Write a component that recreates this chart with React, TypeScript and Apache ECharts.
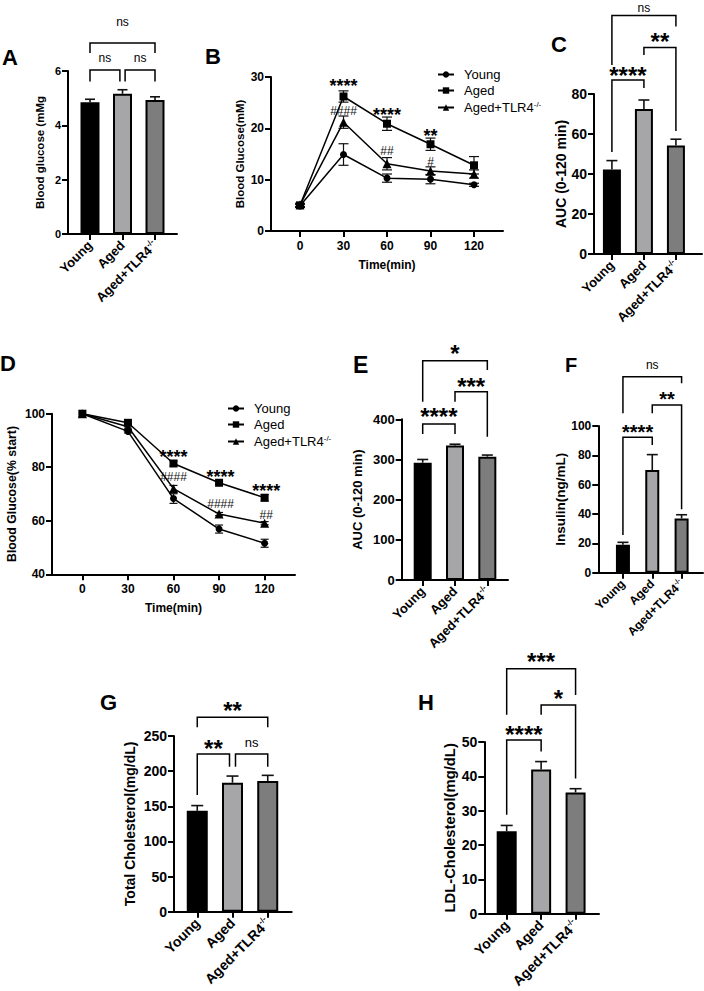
import React, { useEffect, useRef } from 'react';
import * as echarts from 'echarts';

const FONT = '"Liberation Sans", Arial, Helvetica, sans-serif';

// ---------- categories ----------
const GROUPS = ['Young', 'Aged', 'Aged+TLR4-/-'];
const BAR_COLORS = ['#000000', '#a6a6a9', '#7d7d7d'];
const TIMES = [0, 30, 60, 90, 120];

// ---------- A: fasting blood glucose ----------
const fastingGlucose = [4.85, 5.16, 4.93];
const fastingGlucoseErr = [0.11, 0.15, 0.12];
const bracketsA = [
  { x1: 0, x2: 2, y: 7.03, leg1: 6.66, leg2: 6.66, textY: 7.81, text: 'ns' },
  { x1: 0, x2: 0.92, y: 6.04, leg1: 5.61, leg2: 5.61, textY: 6.47, text: 'ns' },
  { x1: 1.08, x2: 2, y: 6.04, leg1: 5.61, leg2: 5.61, textY: 6.47, text: 'ns' },
];

// ---------- B: GTT ----------
const gttYoung = [4.9, 14.9, 10.3, 10.1, 9.0];
const gttYoungErr = [0.3, 2.1, 0.8, 0.9, 0.3];
const gttAged = [5.0, 26.2, 20.9, 16.9, 12.8];
const gttAgedErr = [0.3, 1.1, 1.3, 1.2, 1.7];
const gttTlr4 = [5.1, 21.2, 13.1, 11.7, 11.1];
const gttTlr4Err = [0.3, 1.2, 1.2, 0.8, 0.8];
const gttMarks = [
  { x: 30, y: 29.0, text: '****' },
  { x: 30, y: 23.4, text: '####' },
  { x: 60, y: 23.4, text: '****' },
  { x: 60, y: 15.6, text: '##' },
  { x: 90, y: 19.3, text: '**' },
  { x: 90, y: 13.4, text: '#' },
];

// ---------- C: GTT AUC ----------
const gttAuc = [42.3, 72.5, 54.2];
const gttAucErr = [4.4, 4.5, 3.2];
const bracketsC = [
  { x1: 0, x2: 2, y: 119.2, leg1: 94.5, leg2: 113.7, textY: 123.2, text: 'ns' },
  { x1: 1, x2: 2, y: 103.2, leg1: 99.5, leg2: 61.5, textY: 108.7, text: '**' },
  { x1: 0, x2: 1, y: 87, leg1: 51, leg2: 83, textY: 92, text: '****' },
];

// ---------- D: ITT ----------
const ittYoung = [100, 93.4, 68.3, 56.9, 51.6];
const ittYoungErr = [0, 0.6, 1.8, 1.5, 1.5];
const ittAged = [100, 96.6, 81.4, 74.2, 68.6];
const ittAgedErr = [0, 0.5, 1.0, 0.6, 1.2];
const ittTlr4 = [100, 95.1, 72.0, 62.5, 59.1];
const ittTlr4Err = [0, 0.5, 1.2, 0.6, 0.6];
const ittMarks = [
  { x: 60, y: 85.4, text: '****' },
  { x: 60, y: 76.2, text: '####' },
  { x: 91, y: 77.7, text: '****' },
  { x: 91, y: 66.2, text: '####' },
  { x: 121, y: 72.5, text: '****' },
  { x: 121, y: 62.2, text: '##' },
];

// ---------- E: ITT AUC ----------
const ittAuc = [292, 335, 307];
const ittAucErr = [8, 3, 4];
const bracketsE = [
  { x1: 0, x2: 1, y: 388.3, leg1: 363.5, leg2: 363.5, textY: 419, text: '****' },
  { x1: 1, x2: 2, y: 468.8, leg1: 443.9, leg2: 356.7, textY: 496, text: '***' },
  { x1: 0, x2: 2, y: 545.9, leg1: 443.9, leg2: 522.8, textY: 576.8, text: '*' },
];

// ---------- F: insulin ----------
const insulin = [19, 70, 37];
const insulinErr = [1.7, 10.5, 2.5];
const bracketsF = [
  { x1: 0, x2: 2, y: 133.6, leg1: 108.7, leg2: 129.1, textY: 141.6, text: 'ns' },
  { x1: 1, x2: 2, y: 114.3, leg1: 108.7, leg2: 43.2, textY: 121.1, text: '**' },
  { x1: 0, x2: 1, y: 92.3, leg1: 25.7, leg2: 87, textY: 99.1, text: '****' },
];

// ---------- G: total cholesterol ----------
const totalChol = [143.5, 183.5, 186];
const totalCholErr = [7.5, 9.5, 8];
const bracketsG = [
  { x1: 0, x2: 2, y: 276.6, leg1: 262.4, leg2: 262.4, textY: 294.2, text: '**' },
  { x1: 0, x2: 0.915, y: 224.4, leg1: 166.1, leg2: 206.3, textY: 239.6, text: '**' },
  { x1: 1.085, x2: 2, y: 224.4, leg1: 206.3, leg2: 206.3, textY: 240.5, text: 'ns' },
];

// ---------- H: LDL cholesterol ----------
const ldlChol = [24, 42, 35.3];
const ldlCholErr = [1.7, 2.3, 1.1];
const bracketsH = [
  { x1: 0, x2: 2, y: 71.3, leg1: 57.9, leg2: 63.7, textY: 74.9, text: '***' },
  { x1: 1, x2: 2, y: 60.8, leg1: 57.9, leg2: 39.4, textY: 64.2, text: '*' },
  { x1: 0, x2: 1, y: 50.6, leg1: 28.8, leg2: 47.2, textY: 53.7, text: '****' },
];

// ---------- layout / style ----------
const barPanels = [
  { letter: 'A', gi: 0, grid: { left: 68, top: 71, width: 109, height: 163 }, xMin: -0.677, xMax: 2.677, yMax: 6, yInt: 2,
    means: fastingGlucose, errs: fastingGlucoseErr, brackets: bracketsA, name: 'Blood glucose (mMg', nameGap: 22, nameSize: 11.5,
    tickSize: 11, catSize: 13, barWidth: 19, cap: 10, starSize: 24, nsSize: 12 },
  { letter: 'C', gi: 2, grid: { left: 594, top: 94, width: 108, height: 160 }, xMin: -0.56, xMax: 2.815, yMax: 80, yInt: 20,
    means: gttAuc, errs: gttAucErr, brackets: bracketsC, name: 'AUC (0-120 min)', nameGap: 24, nameSize: 14,
    tickSize: 14, catSize: 13, barWidth: 18, cap: 11, starSize: 24, nsSize: 12 },
  { letter: 'E', gi: 4, grid: { left: 401.7, top: 419.3, width: 106.3, height: 160.7 }, xMin: -0.65, xMax: 2.64, yMax: 400, yInt: 100,
    means: ittAuc, errs: ittAucErr, brackets: bracketsE, name: 'AUC (0-120 min)', nameGap: 38, nameSize: 13,
    tickSize: 13, catSize: 13, barWidth: 18, cap: 11, starSize: 24, nsSize: 12 },
  { letter: 'F', gi: 5, grid: { left: 598.3, top: 426, width: 104.7, height: 146.7 }, xMin: -0.84, xMax: 2.73, yMax: 100, yInt: 20,
    means: insulin, errs: insulinErr, brackets: bracketsF, name: 'Insulin(ng/mL)', nameGap: 26, nameSize: 13.5,
    tickSize: 12, catSize: 12, barWidth: 14, cap: 11, starSize: 20, nsSize: 12 },
  { letter: 'G', gi: 6, grid: { left: 174, top: 736, width: 117.7, height: 175.7 }, xMin: -0.66, xMax: 2.68, yMax: 250, yInt: 50,
    means: totalChol, errs: totalCholErr, brackets: bracketsG, name: 'Total Cholesterol(mg/dL)', nameGap: 37, nameSize: 14,
    tickSize: 14, catSize: 14, barWidth: 21, cap: 12, starSize: 24, nsSize: 13 },
  { letter: 'H', gi: 7, grid: { left: 484.3, top: 742, width: 114.7, height: 171.7 }, xMin: -0.65, xMax: 2.68, yMax: 50, yInt: 10,
    means: ldlChol, errs: ldlCholErr, brackets: bracketsH, name: 'LDL-Cholesterol(mg/dL)', nameGap: 27, nameSize: 14.8,
    tickSize: 14, catSize: 14, barWidth: 20, cap: 12, starSize: 24, nsSize: 12 },
];

const linePanels = [
  { gi: 1, grid: { left: 271, top: 77, width: 232, height: 154 }, yMin: 0, yMax: 30, yInt: 10,
    series: [[gttYoung, gttYoungErr], [gttAged, gttAgedErr], [gttTlr4, gttTlr4Err]], marks: gttMarks,
    name: 'Blood Glucose(mM)', nameGap: 25, nameSize: 11.5, tickSize: 12, cap: 10, legend: { left: 432, top: 63 } },
  { gi: 3, grid: { left: 52, top: 413.7, width: 243, height: 160.6 }, yMin: 40, yMax: 100, yInt: 20,
    series: [[ittYoung, ittYoungErr], [ittAged, ittAgedErr], [ittTlr4, ittTlr4Err]], marks: ittMarks,
    name: 'Blood Glucose(% start)', nameGap: 34, nameSize: 12.3, tickSize: 12, cap: 8, legend: { left: 222, top: 397 } },
];

const letters = [
  { t: 'A', x: 2, y: 57.5, s: 22 },
  { t: 'B', x: 205, y: 56, s: 22 },
  { t: 'C', x: 551, y: 44, s: 22 },
  { t: 'D', x: 0, y: 363, s: 22 },
  { t: 'E', x: 353, y: 365, s: 23 },
  { t: 'F', x: 565, y: 365, s: 20 },
  { t: 'G', x: 100, y: 702.5, s: 22 },
  { t: 'H', x: 418, y: 702.5, s: 22 },
];

const SYMBOLS = ['circle', 'rect', 'triangle'];
const SYMBOL_SIZES = [7, 8, 9];

function axisLineStyle() {
  return {
    axisLine: { show: true, onZero: false, lineStyle: { color: '#000', width: 2 } },
    splitLine: { show: false },
  };
}

function catLabel(v: number) {
  const name = GROUPS[Math.round(v)];
  if (name === 'Aged+TLR4-/-') return '{n|Aged+TLR4}{s|-/-}';
  return '{n|' + name + '}';
}

function richFor(size: number, weight: string) {
  return {
    n: { fontSize: size, fontWeight: weight, fontFamily: FONT, color: '#000', lineHeight: size + 2 },
    s: { fontSize: Math.round(size * 0.6), fontWeight: weight, fontFamily: FONT, color: '#000', verticalAlign: 'top', lineHeight: size * 0.6 },
  };
}

function textEl(x: number, y: number, text: string, size: number) {
  const star = text.indexOf('*') >= 0;
  const hash = text.indexOf('#') >= 0;
  return {
    type: 'text',
    x,
    y: y + (star ? size * 0.22 : 0),
    style: {
      text,
      align: 'center',
      verticalAlign: 'middle',
      fontFamily: FONT,
      fontSize: size,
      fontWeight: star ? 'bold' : 'normal',
      fill: hash ? '#111' : '#000',
    },
  };
}

function buildOption() {
  const grid: any[] = [];
  const xAxis: any[] = [];
  const yAxis: any[] = [];
  const series: any[] = [];
  for (let i = 0; i < 8; i++) { grid.push(null); xAxis.push(null); yAxis.push(null); }

  barPanels.forEach((p) => {
    const gi = p.gi;
    grid[gi] = { ...p.grid, containLabel: false };
    xAxis[gi] = {
      type: 'value', gridIndex: gi, min: p.xMin, max: p.xMax,
      ...axisLineStyle(),
      axisTick: { show: true, length: 6, customValues: [0, 1, 2], lineStyle: { color: '#000', width: 2 } },
      axisLabel: {
        customValues: [0, 1, 2], rotate: 45, margin: 9, formatter: catLabel,
        rich: richFor(p.catSize, 'bold'),
      },
    };
    yAxis[gi] = {
      type: 'value', gridIndex: gi, min: 0, max: p.yMax, interval: p.yInt,
      name: p.name, nameLocation: 'middle', nameGap: p.nameGap,
      nameTextStyle: { fontSize: p.nameSize, fontWeight: 'bold', fontFamily: FONT, color: '#000' },
      ...axisLineStyle(),
      axisTick: { show: true, length: 6, lineStyle: { color: '#000', width: 2 } },
      axisLabel: { margin: 7, fontSize: p.tickSize, fontWeight: 'bold', fontFamily: FONT, color: '#000' },
    };
    series.push({
      type: 'bar', name: 'bars' + p.letter, xAxisIndex: gi, yAxisIndex: gi, barWidth: p.barWidth, z: 2,
      data: p.means.map((v, i) => ({
        value: [i, v],
        itemStyle: { color: BAR_COLORS[i], borderColor: '#000', borderWidth: 2 },
      })),
    });
    series.push({
      type: 'custom', name: 'err' + p.letter, xAxisIndex: gi, yAxisIndex: gi, clip: false, silent: true, z: 3,
      data: p.means.map((v, i) => [i, v, p.errs[i]]),
      renderItem: (params: any, api: any) => {
        const x = api.value(0), m = api.value(1), e = api.value(2);
        const top = api.coord([x, m + e]);
        const base = api.coord([x, m]);
        const st = { stroke: '#111', lineWidth: 1.6 };
        return {
          type: 'group', children: [
            { type: 'line', shape: { x1: base[0], y1: base[1], x2: top[0], y2: top[1] }, style: st },
            { type: 'line', shape: { x1: top[0] - p.cap / 2, y1: top[1], x2: top[0] + p.cap / 2, y2: top[1] }, style: st },
          ],
        };
      },
    });
    series.push({
      type: 'custom', name: 'sig' + p.letter, xAxisIndex: gi, yAxisIndex: gi, clip: false, silent: true, z: 4,
      data: p.brackets.map((b) => [b.x1, b.y]),
      renderItem: (params: any, api: any) => {
        const b = p.brackets[params.dataIndex];
        const l1 = api.coord([b.x1, b.leg1]);
        const p1 = api.coord([b.x1, b.y]);
        const p2 = api.coord([b.x2, b.y]);
        const l2 = api.coord([b.x2, b.leg2]);
        const t = api.coord([(b.x1 + b.x2) / 2, b.textY]);
        const size = b.text === 'ns' ? p.nsSize : p.starSize;
        return {
          type: 'group', children: [
            { type: 'polyline', shape: { points: [l1, p1, p2, l2] }, style: { stroke: '#000', lineWidth: 1.5, fill: null } },
            textEl(t[0], t[1], b.text, size),
          ],
        };
      },
    });
  });

  const legends: any[] = [];
  linePanels.forEach((p) => {
    const gi = p.gi;
    grid[gi] = { ...p.grid, containLabel: false };
    xAxis[gi] = {
      type: 'value', gridIndex: gi, min: -20, max: 140,
      name: 'Time(min)', nameLocation: 'middle', nameGap: 28,
      nameTextStyle: { fontSize: 12, fontWeight: 'bold', fontFamily: FONT, color: '#000' },
      ...axisLineStyle(),
      axisTick: { show: true, length: 6, customValues: TIMES, lineStyle: { color: '#000', width: 2 } },
      axisLabel: { customValues: TIMES, margin: 9, fontSize: p.tickSize, fontWeight: 'bold', fontFamily: FONT, color: '#000' },
    };
    yAxis[gi] = {
      type: 'value', gridIndex: gi, min: p.yMin, max: p.yMax, interval: p.yInt,
      name: p.name, nameLocation: 'middle', nameGap: p.nameGap,
      nameTextStyle: { fontSize: p.nameSize, fontWeight: 'bold', fontFamily: FONT, color: '#000' },
      ...axisLineStyle(),
      axisTick: { show: true, length: 6, lineStyle: { color: '#000', width: 2 } },
      axisLabel: { margin: 7, fontSize: p.tickSize, fontWeight: 'bold', fontFamily: FONT, color: '#000' },
    };
    p.series.forEach(([means, errs], si) => {
      series.push({
        type: 'custom', name: 'lerr' + gi + '_' + si, xAxisIndex: gi, yAxisIndex: gi, clip: false, silent: true, z: 1,
        data: TIMES.map((t, i) => [t, means[i], errs[i]]),
        renderItem: (params: any, api: any) => {
          const x = api.value(0), m = api.value(1), e = api.value(2);
          if (!e) return null;
          const top = api.coord([x, m + e]);
          const bot = api.coord([x, m - e]);
          const st = { stroke: '#111', lineWidth: 1.2 };
          return {
            type: 'group', children: [
              { type: 'line', shape: { x1: top[0], y1: top[1], x2: bot[0], y2: bot[1] }, style: st },
              { type: 'line', shape: { x1: top[0] - p.cap / 2, y1: top[1], x2: top[0] + p.cap / 2, y2: top[1] }, style: st },
              { type: 'line', shape: { x1: bot[0] - p.cap / 2, y1: bot[1], x2: bot[0] + p.cap / 2, y2: bot[1] }, style: st },
            ],
          };
        },
      });
      series.push({
        type: 'line', name: GROUPS[si], xAxisIndex: gi, yAxisIndex: gi, z: 2,
        symbol: SYMBOLS[si], symbolSize: SYMBOL_SIZES[si], showSymbol: true,
        lineStyle: { color: '#000', width: 1.5 },
        itemStyle: { color: '#000', borderWidth: 0 },
        data: TIMES.map((t, i) => [t, means[i]]),
      });
    });
    series.push({
      type: 'custom', name: 'marks' + gi, xAxisIndex: gi, yAxisIndex: gi, clip: false, silent: true, z: 5,
      data: p.marks.map((m) => [m.x, m.y]),
      renderItem: (params: any, api: any) => {
        const m = p.marks[params.dataIndex];
        const c = api.coord([m.x, m.y]);
        const star = m.text.indexOf('*') >= 0;
        return textEl(c[0], c[1], m.text, star ? 18 : 12);
      },
    });
    legends.push({
      left: p.legend.left, top: p.legend.top, orient: 'vertical', itemWidth: 16, itemHeight: 8, itemGap: 3,
      selectedMode: false, data: GROUPS,
      formatter: (name: string) => (name === 'Aged+TLR4-/-' ? '{n|Aged+TLR4}{s|-/-}' : '{n|' + name + '}'),
      textStyle: { padding: [0, 0, 0, 5], rich: richFor(13, 'normal') },
    });
  });

  return {
    animation: false,
    backgroundColor: '#ffffff',
    textStyle: { fontFamily: FONT },
    grid, xAxis, yAxis, series,
    legend: legends,
    graphic: letters.map((l) => ({
      type: 'text', x: l.x, y: l.y,
      style: { text: l.t, fontFamily: FONT, fontSize: l.s, fontWeight: 'bold', fill: '#000', align: 'left', verticalAlign: 'middle' },
    })),
  };
}

export default function App() {
  const ref = useRef<HTMLDivElement>(null);
  useEffect(() => {
    const chart = echarts.init(ref.current as HTMLDivElement, null, { renderer: 'svg', width: 704, height: 991 });
    chart.setOption(buildOption() as any);
    return () => chart.dispose();
  }, []);
  return (
    <div
      ref={ref}
      style={{ position: 'fixed', left: 0, top: 0, width: 704, height: 991, background: '#fff' }}
    />
  );
}
